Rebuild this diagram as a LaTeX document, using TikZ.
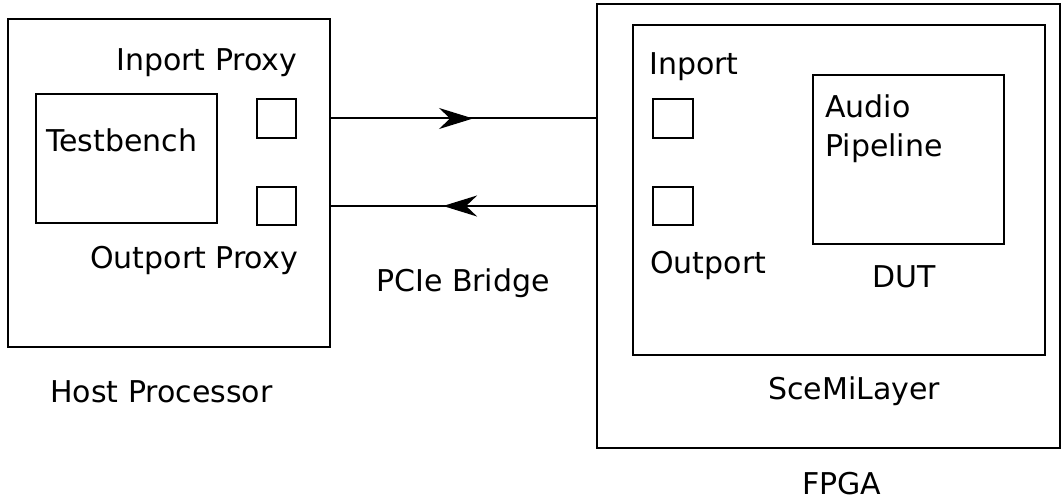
\documentclass[tikz,border=0pt]{standalone}
\usepackage{fontspec}
\setmainfont{DejaVu Sans}
\usetikzlibrary{arrows.meta,decorations.markings}
\tikzset{
  box/.style={draw, line width=2pt, inner sep=0pt, anchor=north west},
  lbl/.style={inner sep=0pt, anchor=base west, font=\fontsize{30}{36}\selectfont},
  link/.style={line width=2pt},
  fwdarrow/.style={link, postaction={decorate}, decoration={markings,
     mark=at position #1 with {\arrow{Stealth[length=34pt,width=21pt,inset=11pt]}}}},
}
\begin{document}
\begin{tikzpicture}[x=1pt,y=-1pt]
\useasboundingbox (0,0) rectangle (1061,500);
% host side
\node[box, minimum width=322pt, minimum height=328pt] (host) at (7,18) {};
\node[box, minimum width=181pt, minimum height=129pt] (tb) at (35,93) {};
\node[box, minimum width=39pt, minimum height=39pt] (inproxy) at (256,98) {};
\node[box, minimum width=39pt, minimum height=38pt] (outproxy) at (256,186) {};
\node[lbl] (tbl) at (46,152) {Testbench};
\node[lbl] (ipl) at (116,71) {Inport Proxy};
\node[lbl] (opl) at (90,268) {Outport Proxy};
\node[lbl] (hostl) at (50,402) {Host Processor};
% fpga side
\node[box, minimum width=463pt, minimum height=444pt] (fpga) at (596,3) {};
\node[box, minimum width=412pt, minimum height=330pt] (sce) at (632,24) {};
\node[box, minimum width=40pt, minimum height=39pt] (inport) at (652,98) {};
\node[box, minimum width=40pt, minimum height=38pt] (outport) at (652,186) {};
\node[box, minimum width=191pt, minimum height=169pt] (dut) at (812,74) {};
\node[lbl] (inl) at (649,75) {Inport};
\node[lbl] (outl) at (650,273) {Outport};
\node[lbl] (audl) at (825,118) {Audio};
\node[lbl] (pipl) at (825,157) {Pipeline};
\node[lbl] (dutl) at (872,287) {DUT};
\node[lbl] (scel) at (768,399) {SceMiLayer};
\node[lbl] (fpgal) at (802,494) {FPGA};
% bridge
\node[lbl] (pcie) at (376,291) {PCIe Bridge};
\draw[fwdarrow=0.536] (inproxy.center -| host.east) -- (inproxy.center -| fpga.west);
\draw[fwdarrow=0.577] (outproxy.center -| fpga.west) -- (outproxy.center -| host.east);
\end{tikzpicture}
\end{document}
